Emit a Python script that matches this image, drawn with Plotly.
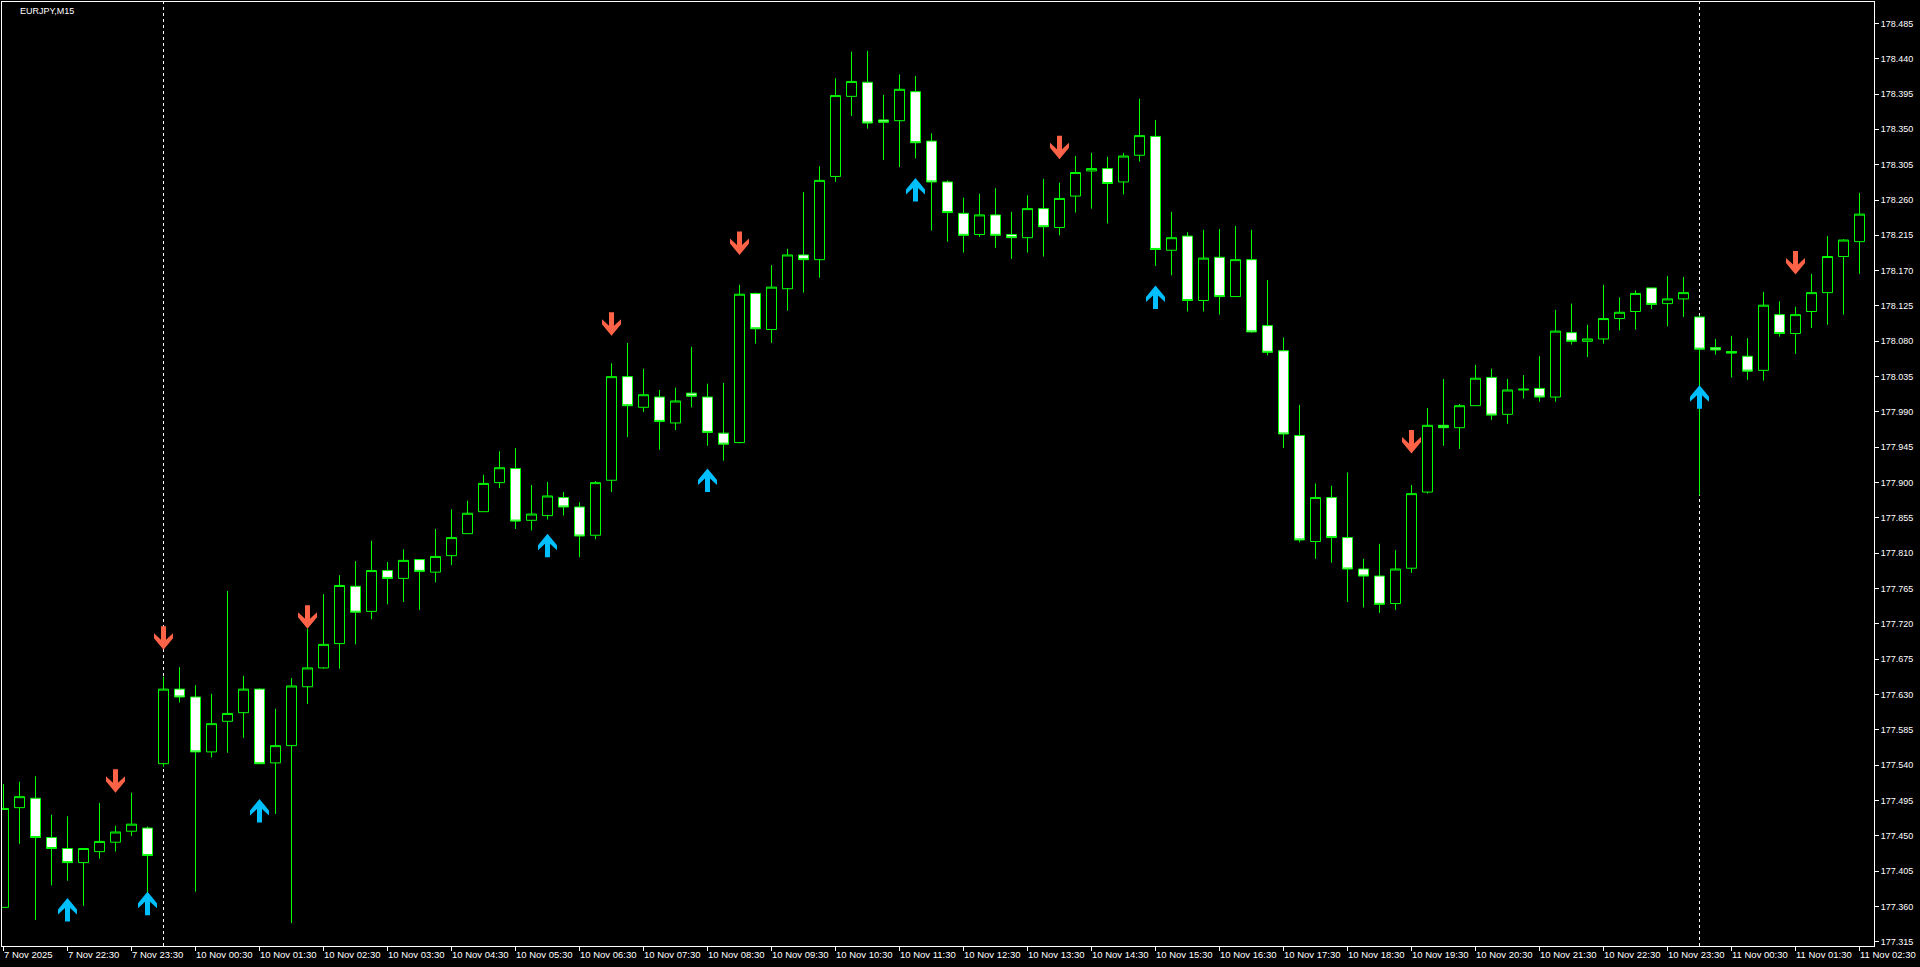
import plotly.graph_objects as go

# ---- OHLC data (EURJPY M15), candle index 0 = 7 Nov 21:30 ----
opens = [177.359, 177.486, 177.498, 177.448, 177.434, 177.416, 177.430, 177.442, 177.456, 177.460,
         177.542, 177.637, 177.627, 177.557, 177.596, 177.607, 177.637, 177.543, 177.565, 177.640,
         177.664, 177.695, 177.768, 177.736, 177.788, 177.778, 177.802, 177.786, 177.807, 177.835,
         177.863, 177.900, 177.918, 177.852, 177.858, 177.881, 177.869, 177.833, 177.903, 178.035,
         177.996, 178.009, 177.976, 178.014, 178.009, 177.963, 177.951, 178.141, 178.095, 178.147,
         178.190, 178.184, 178.290, 178.392, 178.410, 178.362, 178.361, 178.398, 178.335, 178.283,
         178.243, 178.216, 178.241, 178.216, 178.212, 178.249, 178.225, 178.265, 178.297, 178.300,
         178.283, 178.317, 178.341, 178.196, 178.214, 178.132, 178.187, 178.137, 178.184, 178.100,
         178.068, 177.960, 177.825, 177.881, 177.830, 177.790, 177.781, 177.746, 177.791, 177.888,
         177.973, 177.970, 177.998, 178.034, 177.987, 178.018, 178.020, 178.009, 178.091, 178.080,
         178.083, 178.109, 178.118, 178.148, 178.128, 178.134, 178.111, 178.072, 178.067, 178.061,
         178.043, 178.114, 178.090, 178.118, 178.142, 178.188, 178.207]
highs = [177.516, 177.519, 177.526, 177.477, 177.475, 177.434, 177.492, 177.463, 177.505, 177.462,
         177.653, 177.665, 177.642, 177.631, 177.762, 177.654, 177.638, 177.612, 177.651, 177.714,
         177.758, 177.782, 177.800, 177.826, 177.799, 177.815, 177.802, 177.841, 177.866, 177.877,
         177.910, 177.940, 177.944, 177.897, 177.901, 177.888, 177.875, 177.902, 178.052, 178.078,
         178.045, 178.018, 178.021, 178.073, 178.026, 178.027, 178.152, 178.142, 178.177, 178.198,
         178.270, 178.303, 178.415, 178.449, 178.450, 178.394, 178.420, 178.418, 178.345, 178.285,
         178.263, 178.268, 178.275, 178.245, 178.266, 178.287, 178.282, 178.316, 178.320, 178.315,
         178.320, 178.389, 178.362, 178.245, 178.219, 178.222, 178.223, 178.227, 178.222, 178.158,
         178.085, 177.999, 177.899, 177.896, 177.913, 177.803, 177.822, 177.814, 177.897, 177.995,
         178.032, 178.000, 178.050, 178.045, 178.032, 178.037, 178.061, 178.120, 178.128, 178.101,
         178.152, 178.136, 178.145, 178.148, 178.163, 178.162, 178.113, 178.083, 178.087, 178.084,
         178.143, 178.131, 178.124, 178.166, 178.214, 178.210, 178.269]
lows = [177.359, 177.440, 177.343, 177.387, 177.393, 177.361, 177.421, 177.430, 177.450, 177.375,
        177.538, 177.620, 177.379, 177.550, 177.556, 177.575, 177.542, 177.478, 177.339, 177.618,
        177.663, 177.663, 177.694, 177.726, 177.745, 177.748, 177.738, 177.773, 177.795, 177.835,
        177.863, 177.893, 177.841, 177.839, 177.853, 177.858, 177.805, 177.828, 177.888, 177.958,
        177.990, 177.942, 177.967, 177.996, 177.947, 177.928, 177.950, 178.077, 178.078, 178.119,
        178.142, 178.161, 178.283, 178.367, 178.351, 178.311, 178.302, 178.313, 178.221, 178.207,
        178.193, 178.213, 178.199, 178.185, 178.193, 178.188, 178.215, 178.244, 178.249, 178.230,
        178.267, 178.309, 178.176, 178.164, 178.118, 178.118, 178.114, 178.137, 178.091, 178.062,
        177.944, 177.824, 177.803, 177.798, 177.748, 177.741, 177.734, 177.738, 177.785, 177.886,
        177.947, 177.943, 177.998, 177.980, 177.975, 178.007, 178.003, 178.003, 178.076, 178.060,
        178.077, 178.094, 178.095, 178.121, 178.099, 178.111, 177.884, 178.063, 178.034, 178.031,
        178.030, 178.086, 178.064, 178.097, 178.101, 178.114, 178.166]
closes = [177.485, 177.500, 177.448, 177.434, 177.416, 177.434, 177.443, 177.455, 177.465, 177.425,
          177.637, 177.627, 177.557, 177.593, 177.606, 177.637, 177.542, 177.565, 177.641, 177.664,
          177.694, 177.769, 177.735, 177.788, 177.778, 177.801, 177.787, 177.806, 177.830, 177.861,
          177.899, 177.919, 177.851, 177.860, 177.883, 177.869, 177.832, 177.900, 178.035, 177.998,
          178.012, 177.978, 178.004, 178.010, 177.964, 177.949, 178.140, 178.096, 178.149, 178.190,
          178.184, 178.285, 178.393, 178.411, 178.358, 178.359, 178.401, 178.333, 178.283, 178.244,
          178.215, 178.241, 178.215, 178.212, 178.249, 178.226, 178.262, 178.295, 178.300, 178.281,
          178.316, 178.342, 178.197, 178.212, 178.132, 178.186, 178.137, 178.184, 178.092, 178.066,
          177.962, 177.827, 177.881, 177.830, 177.790, 177.781, 177.745, 177.790, 177.886, 177.973,
          177.970, 177.998, 178.033, 177.986, 178.018, 178.019, 178.009, 178.093, 178.080, 178.083,
          178.109, 178.117, 178.141, 178.127, 178.134, 178.142, 178.070, 178.069, 178.065, 178.042,
          178.126, 178.090, 178.114, 178.142, 178.188, 178.209, 178.242]

# ---- signal arrows (candle index, price at arrow tip) ----
sell_idx = [7, 10, 19, 38, 46, 66, 88, 112]
sell_price = [177.505, 177.687, 177.714, 178.087, 178.190, 178.312, 177.937, 178.165]
buy_idx = [4, 9, 16, 34, 44, 57, 72, 106]
buy_price = [177.371, 177.379, 177.497, 177.835, 177.918, 178.288, 178.151, 178.024]

# ---- axis labels ----
tick_idx = [0, 4, 8, 12, 16, 20, 24, 28, 32, 36, 40, 44, 48, 52, 56, 60, 64, 68, 72, 76,
            80, 84, 88, 92, 96, 100, 104, 108, 112, 116]
tick_labels = ["7 Nov 2025", "7 Nov 22:30", "7 Nov 23:30",
               "10 Nov 00:30", "10 Nov 01:30", "10 Nov 02:30", "10 Nov 03:30", "10 Nov 04:30",
               "10 Nov 05:30", "10 Nov 06:30", "10 Nov 07:30", "10 Nov 08:30", "10 Nov 09:30",
               "10 Nov 10:30", "10 Nov 11:30", "10 Nov 12:30", "10 Nov 13:30", "10 Nov 14:30",
               "10 Nov 15:30", "10 Nov 16:30", "10 Nov 17:30", "10 Nov 18:30", "10 Nov 19:30",
               "10 Nov 20:30", "10 Nov 21:30", "10 Nov 22:30", "10 Nov 23:30",
               "11 Nov 00:30", "11 Nov 01:30", "11 Nov 02:30"]
separator_idx = [10, 106]
price_ticks = [177.315, 177.360, 177.405, 177.450, 177.495, 177.540, 177.585, 177.630, 177.675,
               177.720, 177.765, 177.810, 177.855, 177.900, 177.945, 177.990, 178.035, 178.080,
               178.125, 178.170, 178.215, 178.260, 178.305, 178.350, 178.395, 178.440, 178.485]
title_text = "EURJPY,M15"

GREEN = "#00FF00"
SELL_COLOR = "#FF6347"
BUY_COLOR = "#00BFFF"
FONT = "Liberation Sans"

x = list(range(len(opens)))

fig = go.Figure()
fig.add_trace(go.Candlestick(
    x=x, open=opens, high=highs, low=lows, close=closes,
    increasing=dict(line=dict(color=GREEN, width=1), fillcolor="#000000"),
    decreasing=dict(line=dict(color=GREEN, width=1), fillcolor="#FFFFFF"),
    whiskerwidth=0, showlegend=False, hoverinfo="skip",
))

shapes = []
for s in separator_idx:
    shapes.append(dict(type="line", xref="x", yref="paper", x0=s, x1=s, y0=0, y1=1,
                       line=dict(color="#FFFFFF", width=1, dash="3px,3px"), layer="below"))

down_path = "M0,0 L9.5,11.5 L9.5,16.5 L2.5,10 L2.5,23.5 L-2.5,23.5 L-2.5,10 L-9.5,16.5 L-9.5,11.5 Z"
up_path = "M0,0 L9.5,-11.5 L9.5,-16.5 L2.5,-10 L2.5,-23.5 L-2.5,-23.5 L-2.5,-10 L-9.5,-16.5 L-9.5,-11.5 Z"
for i, p in zip(sell_idx, sell_price):
    shapes.append(dict(type="path", xref="x", yref="y", xsizemode="pixel", ysizemode="pixel",
                       xanchor=i, yanchor=p, path=down_path, fillcolor=SELL_COLOR,
                       line=dict(width=0), layer="above"))
for i, p in zip(buy_idx, buy_price):
    shapes.append(dict(type="path", xref="x", yref="y", xsizemode="pixel", ysizemode="pixel",
                       xanchor=i, yanchor=p, path=up_path, fillcolor=BUY_COLOR,
                       line=dict(width=0), layer="above"))

annotations = [dict(text=title_text, xref="paper", yref="paper", x=0.0085, y=1,
                    xanchor="left", yanchor="middle", yshift=-9, showarrow=False,
                    font=dict(family=FONT, size=9, color="#FFFFFF"))]
for ti, tl in zip(tick_idx, tick_labels):
    annotations.append(dict(text=tl, xref="x", yref="paper", x=ti, y=0, xanchor="left",
                            yanchor="top", xshift=-2, yshift=-1, showarrow=False,
                            font=dict(family=FONT, size=9.5, color="#FFFFFF")))

fig.update_layout(
    width=1920, height=967,
    margin=dict(l=2, r=46, t=2, b=21, pad=0),
    paper_bgcolor="#000000", plot_bgcolor="#000000",
    font=dict(family=FONT, size=9, color="#FFFFFF"),
    showlegend=False,
    boxgap=0.375, boxgroupgap=0,
    shapes=shapes, annotations=annotations,
    xaxis=dict(range=[-0.09375, 116.90625], showgrid=False, zeroline=False,
               showline=True, linecolor="#FFFFFF", linewidth=1, mirror=True,
               ticks="outside", ticklen=4, tickcolor="#FFFFFF", tickwidth=1,
               tickvals=tick_idx, showticklabels=False,
               rangeslider=dict(visible=False), fixedrange=True),
    yaxis=dict(side="right", range=[177.3098, 178.5122], showgrid=False, zeroline=False,
               showline=True, linecolor="#FFFFFF", linewidth=1, mirror=True,
               ticks="outside", ticklen=4, tickcolor="#FFFFFF", tickwidth=1,
               tickvals=price_ticks, tickformat=".3f",
               tickfont=dict(family=FONT, size=9, color="#FFFFFF"), fixedrange=True),
)

fig.write_html("out.html", include_plotlyjs=True, full_html=True,
               config={"displayModeBar": False},
               post_script="document.body.style.margin='0';document.body.style.background='#000';")
